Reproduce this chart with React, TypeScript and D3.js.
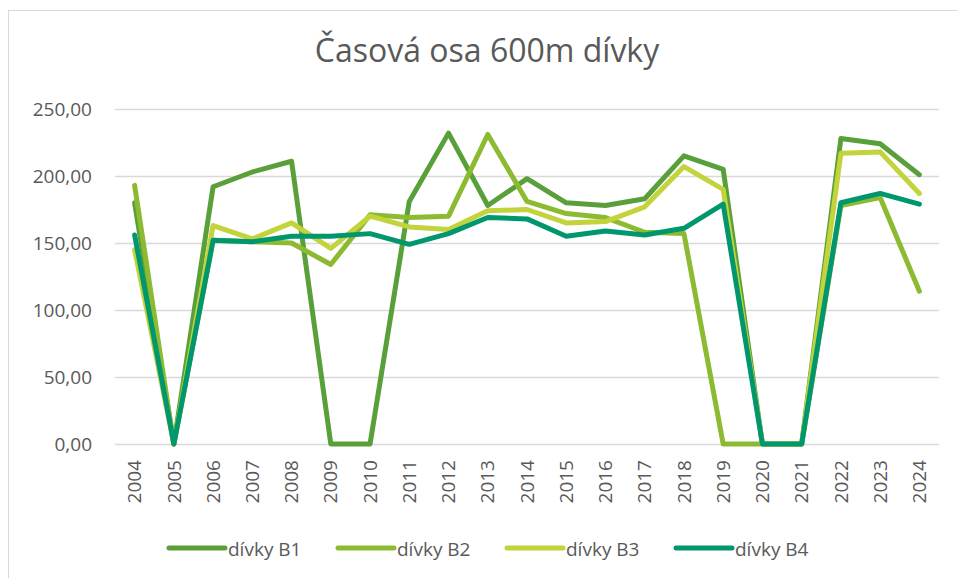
import React, { useEffect, useRef } from 'react';
import * as d3 from 'd3';

const years = ['2004', '2005', '2006', '2007', '2008', '2009', '2010', '2011', '2012', '2013', '2014',
  '2015', '2016', '2017', '2018', '2019', '2020', '2021', '2022', '2023', '2024'];

const seriesNames = ['dívky B1', 'dívky B2', 'dívky B3', 'dívky B4'];

const b1 = [180, 0, 192, 203, 211, 0, 0, 181, 232, 178, 198, 180, 178, 183, 215, 205, 0, 0, 228, 224, 201];
const b2 = [193, 0, 152, 151, 150, 134, 171, 169, 170, 231, 181, 172, 169, 158, 157, 0, 0, 0, 178, 184, 114];
const b3 = [145, 0, 163, 153, 165, 146, 170, 162, 160, 174, 175, 165, 166, 177, 207, 190, 0, 0, 217, 218, 187];
const b4 = [156, 0, 152, 151, 155, 155, 157, 149, 157, 169, 168, 155, 159, 156, 161, 179, 0, 0, 180, 187, 179];

const yTicks = [0, 50, 100, 150, 200, 250];
const colors = ['#59a03a', '#8cbb31', '#c2d33b', '#00976f'];

const App: React.FC = () => {
  const svgRef = useRef<SVGSVGElement>(null);

  useEffect(() => {
    if (!svgRef.current) return;
    const width = 957;
    const height = 578;
    const svg = d3.select(svgRef.current);
    svg.selectAll('*').remove();
    svg.attr('width', width).attr('height', height);

    const font = "'Open Sans', 'DejaVu Sans', sans-serif";
    const textColor = '#595959';

    svg.append('rect')
      .attr('x', 0).attr('y', 0).attr('width', width).attr('height', height)
      .attr('fill', '#ffffff');

    // chart frame
    svg.append('rect')
      .attr('x', 8.5).attr('y', 10.5).attr('width', 960).attr('height', 580)
      .attr('fill', 'none').attr('stroke', '#d9d9d9');

    svg.append('text')
      .attr('x', 487).attr('y', 62)
      .attr('text-anchor', 'middle')
      .style('font-family', font).style('font-size', '32px')
      .style('fill', textColor)
      .text('Časová osa 600m dívky');

    const x = d3.scaleBand<string>().domain(years).range([115, 939]).padding(0);
    const y = d3.scaleLinear().domain([0, 250]).range([444, 109]);
    const cx = (d: string) => (x(d) || 0) + x.bandwidth() / 2;

    // gridlines
    svg.append('g').selectAll('line')
      .data(yTicks)
      .enter().append('line')
      .attr('x1', 115).attr('x2', 939)
      .attr('y1', d => Math.round(y(d)) + 0.5).attr('y2', d => Math.round(y(d)) + 0.5)
      .attr('stroke', '#d9d9d9').attr('stroke-width', 1.5);

    // y labels
    svg.append('g').selectAll('text')
      .data(yTicks)
      .enter().append('text')
      .attr('x', 92).attr('y', d => y(d))
      .attr('dy', '0.35em')
      .attr('text-anchor', 'end')
      .style('font-family', font).style('font-size', '19px')
      .style('fill', textColor)
      .text(d => d3.format('.2f')(d).replace('.', ','));

    // x labels rotated
    svg.append('g').selectAll('text')
      .data(years)
      .enter().append('text')
      .attr('transform', d => `translate(${cx(d)},460) rotate(-90)`)
      .attr('text-anchor', 'end')
      .attr('dy', '0.35em')
      .style('font-family', font).style('font-size', '19px')
      .style('fill', textColor)
      .text(d => d);

    const allSeries = [b1, b2, b3, b4];
    const line = d3.line<number>()
      .x((_, i) => cx(years[i]))
      .y(d => y(d));

    allSeries.forEach((s, i) => {
      svg.append('path')
        .datum(s)
        .attr('d', line)
        .attr('fill', 'none')
        .attr('stroke', colors[i])
        .attr('stroke-width', 5)
        .attr('stroke-linejoin', 'round')
        .attr('stroke-linecap', 'round');
    });

    // legend
    const legend = svg.append('g');
    seriesNames.forEach((name, i) => {
      const lx = 169 + i * 169;
      legend.append('line')
        .attr('x1', lx).attr('x2', lx + 56)
        .attr('y1', 548).attr('y2', 548)
        .attr('stroke', colors[i]).attr('stroke-width', 5)
        .attr('stroke-linecap', 'round');
      legend.append('text')
        .attr('x', lx + 59).attr('y', 556)
        .style('font-family', font).style('font-size', '19px')
        .style('fill', textColor)
        .text(name);
    });
  }, []);

  return <svg ref={svgRef} style={{ display: 'block', position: 'absolute', left: 0, top: 0 }}></svg>;
};

export default App;
